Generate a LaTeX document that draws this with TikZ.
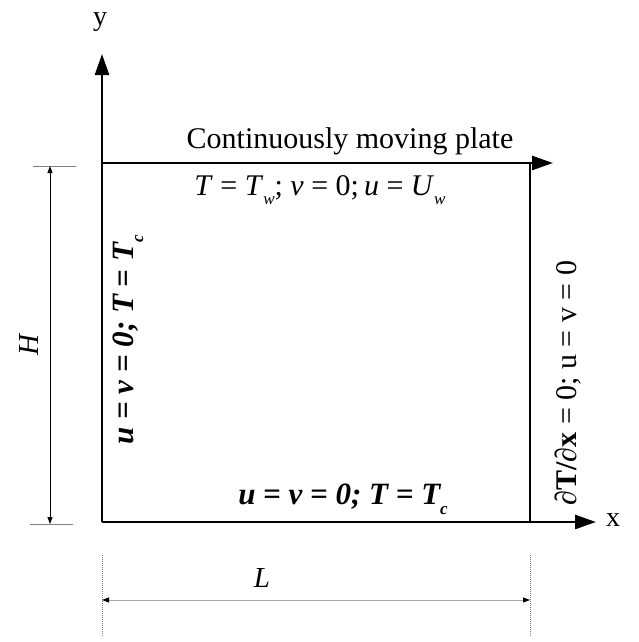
\documentclass[tikz,border=0pt]{standalone}
\usepackage{fontspec}
\setmainfont{Liberation Serif}
\usetikzlibrary{arrows.meta}
\newcommand{\lowsub}[1]{\raisebox{-0.32em}{\fontsize{17}{17}\selectfont #1}}
\begin{document}
\begin{tikzpicture}[x=1pt,y=-1pt,
  axis/.style={line width=2.6pt,-{Triangle[length=21pt,width=14pt]}},
  wall/.style={line width=2.6pt},
  dimline/.style={line width=0.9pt,{Triangle[length=7pt,width=5pt,color=black]}-{Triangle[length=7pt,width=5pt,color=black]}},
  extline/.style={line width=1pt,gray},
  lbl/.style={font=\fontsize{28}{32}\selectfont, inner sep=0pt},
  bc/.style={font=\fontsize{31}{34}\selectfont\bfseries\itshape, inner sep=0pt}]
\useasboundingbox (0,0) rectangle (638,642);
% corners
\coordinate (O) at (102,522);
\coordinate (TL) at (102,163);
\coordinate (TR) at (530,163);
\coordinate (BR) at (530,522);
\coordinate (ytip) at (102,54);
\coordinate (xtip) at (596,522);
\coordinate (ttip) at (553,163);
% axes and walls
\draw[axis] (O) -- (ytip);
\draw[axis] (O) -- (xtip);
\draw[axis] (TL) -- (ttip);
\draw[wall] (TR) -- (BR);
% labels of axes
\node[lbl] (ylab) at (100,22) {y};
\node[lbl] (xlab) at (613,520) {x};
% texts
\node[lbl, font=\fontsize{30}{32}\selectfont] (plate) at (350,141) {Continuously moving plate};
\node[lbl, font=\fontsize{30}{32}\selectfont] (topbc) at (320,190) {\textit{T} = \textit{T}\lowsub{\textit{w}}; \textit{v} = 0;\,\textit{u} = \textit{U}\lowsub{\textit{w}}};
\node[bc, rotate=90] (leftbc) at (128,340) {u = v = 0; T = T\lowsub{\bfseries\itshape c}};
\node[bc] (botbc) at (343,499) {u = v = 0; T = T\lowsub{\bfseries\itshape c}};
\node[lbl, rotate=90, font=\fontsize{30}{32}\selectfont] (rightbc) at (568,383) {\textbf{∂T/∂x} = 0; u = v = 0};
% H dimension
\coordinate (ha1) at (33,166);
\coordinate (ha2) at (76,166);
\coordinate (hb1) at (30,524);
\coordinate (hb2) at (73,524);
\coordinate (hu) at (50,166);
\coordinate (hd) at (50,524);
\draw[extline] (ha1) -- (ha2);
\draw[extline] (hb1) -- (hb2);
\draw[dimline] (hu) -- (hd);
\node[lbl, rotate=90, font=\fontsize{29}{32}\selectfont\itshape] (Hlab) at (29,345) {H};
% L dimension
\coordinate (la1) at (102,555);
\coordinate (la2) at (102,637);
\coordinate (lb1) at (530,555);
\coordinate (lb2) at (530,637);
\coordinate (ll) at (102,600);
\coordinate (lr) at (530,600);
\draw[extline, densely dotted] (la1) -- (la2);
\draw[extline, densely dotted] (lb1) -- (lb2);
\draw[dimline, draw=gray!70] (ll) -- (lr);
\node[lbl, font=\fontsize{29}{32}\selectfont\itshape] (Llab) at (262,578) {L};
\end{tikzpicture}
\end{document}
